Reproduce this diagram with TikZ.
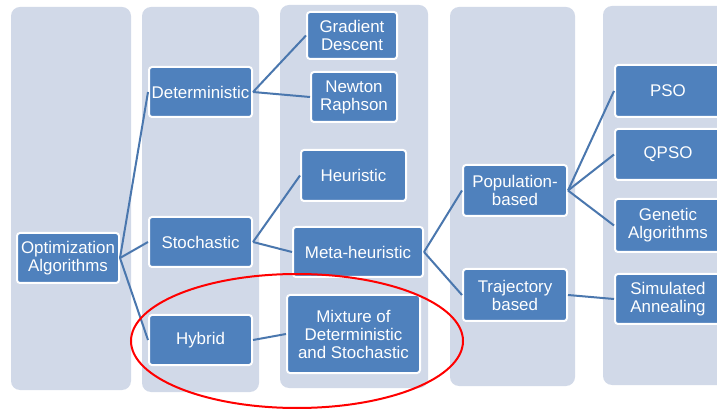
\documentclass[tikz,border=0pt]{standalone}
\usepackage{fontspec}
\setmainfont{Liberation Sans}
\usepackage{tikz}
\usetikzlibrary{positioning}

\definecolor{colfill}{HTML}{D1D9E8}
\definecolor{boxfill}{HTML}{4F81BD}
\definecolor{linkblue}{HTML}{4A77AE}

\begin{document}
\begin{tikzpicture}[
    x=1pt, y=-1pt,
    col/.style={fill=colfill, rounded corners=9pt},
    box/.style={rectangle, draw=white, line width=2pt, fill=boxfill, rounded corners=3pt,
                text=white, align=center, inner sep=1pt,
                font=\fontsize{16.9}{18}\selectfont},
    link/.style={draw=linkblue, line width=2pt},
    ring/.style={draw=red, line width=2pt}
]

    \clip (0,0) rectangle (717,411);
    \fill[white] (0,0) rectangle (717,411);

    % Background columns
    \fill[col] (11,7) rectangle (131,390);
    \fill[col] (142,7) rectangle (259,392);
    \fill[col] (280,5) rectangle (428,388);
    \fill[col] (450,7) rectangle (575,386);
    \fill[col] (603,6) rectangle (740,385);

    % Root
    \node[box, minimum width=102pt, minimum height=50pt] (opt) at (68,258) {Optimization\\Algorithms};

    % First level
    \node[box, minimum width=103pt, minimum height=50pt] (det) at (200.5,92) {Deterministic};
    \node[box, minimum width=103pt, minimum height=50pt] (sto) at (200.5,242) {Stochastic};
    \node[box, minimum width=103pt, minimum height=50pt] (hyb) at (200.5,340) {Hybrid};

    % Second level
    \node[box, minimum width=90pt, minimum height=47pt] (grad) at (352,35.5) {Gradient\\Descent};
    \node[box, minimum width=86pt, minimum height=50pt] (newt) at (354,97) {Newton\\Raphson};
    \node[box, minimum width=105pt, minimum height=51pt] (heur) at (353.5,175.5) {Heuristic};
    \node[box, minimum width=130pt, minimum height=50pt] (meta) at (358,252) {Meta-heuristic};
    \node[box, minimum width=133pt, minimum height=78pt] (mix) at (353.5,334) {Mixture of\\Deterministic\\and Stochastic};

    % Third level
    \node[box, minimum width=104pt, minimum height=51pt] (pop) at (515,190.5) {Population-\\based};
    \node[box, minimum width=104pt, minimum height=52pt] (traj) at (515,295) {Trajectory\\based};

    % Fourth level
    \node[box, minimum width=106pt, minimum height=52pt] (pso) at (668,91) {PSO};
    \node[box, minimum width=106pt, minimum height=51pt] (qpso) at (668,154.5) {QPSO};
    \node[box, minimum width=106pt, minimum height=53pt] (gen) at (668,225.5) {Genetic\\Algorithms};
    \node[box, minimum width=106pt, minimum height=50pt] (sim) at (668,299) {Simulated\\Annealing};

    % Links
    \draw[link] (opt.east) -- (det.west);
    \draw[link] (opt.east) -- (sto.west);
    \draw[link] (opt.east) -- (hyb.west);
    \draw[link] (det.east) -- (grad.west);
    \draw[link] (det.east) -- (newt.west);
    \draw[link] (sto.east) -- (heur.west);
    \draw[link] (sto.east) -- (meta.west);
    \draw[link] (hyb.east) -- (mix.west);
    \draw[link] (meta.east) -- (pop.west);
    \draw[link] (meta.east) -- (traj.west);
    \draw[link] (pop.east) -- (pso.west);
    \draw[link] (pop.east) -- (qpso.west);
    \draw[link] (pop.east) -- (gen.west);
    \draw[link] (traj.east) -- (sim.west);

    % Highlight
    \draw[ring] (297,341) ellipse [x radius=166, y radius=67];

\end{tikzpicture}
\end{document}
